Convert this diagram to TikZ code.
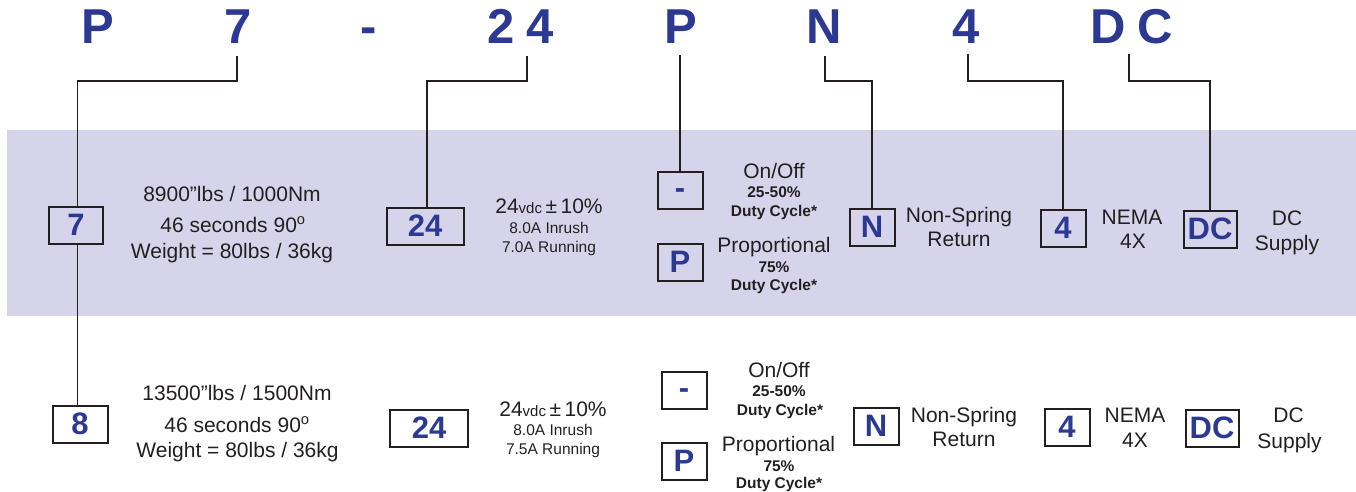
\documentclass[tikz,border=0pt]{standalone}
\usepackage{fontspec}
\setmainfont{Liberation Sans}
\definecolor{pblue}{RGB}{44,57,146}
\definecolor{band}{RGB}{214,212,234}
\definecolor{ink}{RGB}{35,31,32}
\begin{document}
\begin{tikzpicture}[x=1pt,y=-1pt,
  hdr/.style={font=\fontsize{49}{49}\selectfont\bfseries, text=pblue, inner sep=0pt, anchor=base},
  code/.style={draw=ink, line width=2pt, minimum height=37pt, inner sep=0pt,
     font=\fontsize{31}{31}\selectfont\bfseries, text=pblue},
  dashcode/.style={code, text height=16pt, text depth=0pt},
  txt/.style={font=\fontsize{21}{21}\selectfont, text=ink, inner sep=0pt, anchor=base},
  sm/.style={font=\fontsize{15.5}{15.5}\selectfont, text=ink, inner sep=0pt, anchor=base},
  smb/.style={font=\fontsize{15.5}{15.5}\selectfont\bfseries, text=ink, inner sep=0pt, anchor=base},
  wire/.style={draw=ink, line width=1.8pt}]
\useasboundingbox (0,0) rectangle (1356,492);
\fill[band] (7,130) rectangle (1356,316);

% header
\node[hdr] (hP)  at (98,44)  {P};
\node[hdr] (h7)  at (238,44) {7};
\node[hdr] (hd)  at (369,44) {-};
\node[hdr] (h2)  at (501,44) {2};
\node[hdr] (h4a) at (540,44) {4};
\node[hdr] (hP2) at (681,44) {P};
\node[hdr] (hN)  at (824,44) {N};
\node[hdr] (h4)  at (966,44) {4};
\node[hdr] (hD)  at (1108,44) {D};
\node[hdr] (hC)  at (1155,44) {C};

% row 1 boxes
\node[code, minimum width=54pt] (b7)   at (76,225)  {7};
\node[code, minimum width=77pt] (b24)  at (425,226) {24};
\node[dashcode, minimum width=45pt] (bOff) at (680,190) {-};
\node[code, minimum width=45pt] (bPr)  at (680,262) {P};
\node[code, minimum width=45pt] (bN)   at (872,227) {N};
\node[code, minimum width=45pt] (b4)   at (1063,228) {4};
\node[code, minimum width=53pt] (bDC)  at (1210,229) {DC};

% row 2 boxes
\node[code, minimum width=55pt] (b8)    at (80,424)  {8};
\node[code, minimum width=78pt] (b24b)  at (429,428) {24};
\node[dashcode, minimum width=45pt] (bOff2) at (684,390) {-};
\node[code, minimum width=45pt] (bPr2)  at (684,461) {P};
\node[code, minimum width=45pt] (bN2)   at (876,426) {N};
\node[code, minimum width=45pt] (b42)   at (1067,427) {4};
\node[code, minimum width=53pt] (bDC2)  at (1212,428) {DC};

% wires
\coordinate (t7)  at (237,56);  \coordinate (k7)  at (237,81); \coordinate (j7) at (77.5,81);
\coordinate (t24) at (527,56);  \coordinate (k24) at (527,81); \coordinate (j24) at (427,81);
\coordinate (tP)  at (680,55);
\coordinate (tN)  at (825,56);  \coordinate (kN)  at (825,81); \coordinate (jN) at (872,81);
\coordinate (t4)  at (968,54);  \coordinate (k4)  at (968,81); \coordinate (j4) at (1063,81);
\coordinate (tDC) at (1129,54); \coordinate (kDC) at (1129,81); \coordinate (jDC) at (1210,81);
\draw[wire] (t7) -- (k7) -- (j7) -- (j7 |- b7.north);
\draw[wire] (j7 |- b7.south) -- (j7 |- b8.north);
\draw[wire] (t24) -- (k24) -- (j24) -- (j24 |- b24.north);
\draw[wire] (tP) -- (tP |- bOff.north);
\draw[wire] (tN) -- (kN) -- (jN) -- (jN |- bN.north);
\draw[wire] (t4) -- (k4) -- (j4) -- (j4 |- b4.north);
\draw[wire] (tDC) -- (kDC) -- (jDC) -- (jDC |- bDC.north);

% row 1 texts
\node[txt] (r1a) at (232,201) {8900”lbs / 1000Nm};
\node[txt] (r1b) at (233,232) {46 seconds 90\textsuperscript{o}};
\node[txt] (r1c) at (232,258) {Weight = 80lbs / 36kg};
\node[txt] (r1v) at (549,213) {24{\fontsize{15}{15}\selectfont vdc}\,±\,10\%};
\node[sm]  (r1i) at (549,233) {8.0A Inrush};
\node[sm]  (r1r) at (549,252) {7.0A Running};
\node[txt] (r1o) at (774,178) {On/Off};
\node[smb] (r1d) at (774,197) {25-50\%};
\node[smb] (r1e) at (774,216) {Duty Cycle*};
\node[txt] (r1p) at (774,252) {Proportional};
\node[smb] (r1s) at (774,272) {75\%};
\node[smb] (r1f) at (774,290) {Duty Cycle*};
\node[txt] (r1n) at (959,222) {Non-Spring};
\node[txt] (r1m) at (959,246) {Return};
\node[txt] (r1x) at (1132,224) {NEMA};
\node[txt] (r1y) at (1133,248) {4X};
\node[txt] (r1g) at (1287,225) {DC};
\node[txt] (r1h) at (1287,250) {Supply};

% row 2 texts
\node[txt] (r2a) at (237,400) {13500”lbs / 1500Nm};
\node[txt] (r2b) at (237,432) {46 seconds 90\textsuperscript{o}};
\node[txt] (r2c) at (237.5,457) {Weight = 80lbs / 36kg};
\node[txt] (r2v) at (553,416) {24{\fontsize{15}{15}\selectfont vdc}\,±\,10\%};
\node[sm]  (r2i) at (553,435) {8.0A Inrush};
\node[sm]  (r2r) at (553,454) {7.5A Running};
\node[txt] (r2o) at (779,377) {On/Off};
\node[smb] (r2d) at (779,396) {25-50\%};
\node[smb] (r2e) at (780,415) {Duty Cycle*};
\node[txt] (r2p) at (778.5,451) {Proportional};
\node[smb] (r2s) at (779,471) {75\%};
\node[smb] (r2f) at (779,488) {Duty Cycle*};
\node[txt] (r2n) at (964,422) {Non-Spring};
\node[txt] (r2m) at (964,446) {Return};
\node[txt] (r2x) at (1135,422) {NEMA};
\node[txt] (r2y) at (1135,447) {4X};
\node[txt] (r2g) at (1288.5,422) {DC};
\node[txt] (r2h) at (1289.5,448) {Supply};
\end{tikzpicture}
\end{document}
